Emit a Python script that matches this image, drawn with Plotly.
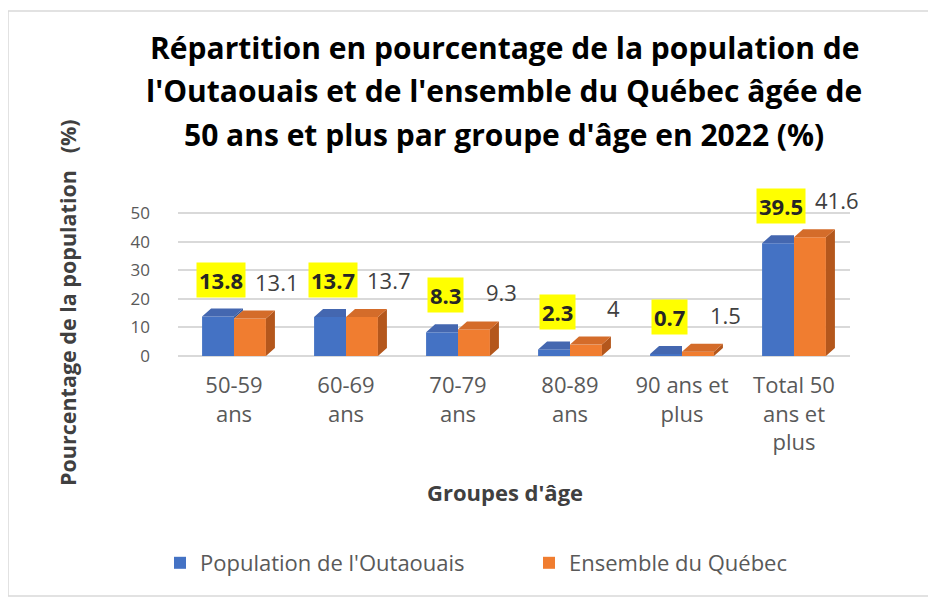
import plotly.graph_objects as go

categories = ["50-59<br>ans", "60-69<br>ans", "70-79<br>ans", "80-89<br>ans",
              "90 ans et<br>plus", "Total 50<br>ans et<br>plus"]
outaouais = [13.8, 13.7, 8.3, 2.3, 0.7, 39.5]
quebec = [13.1, 13.7, 9.3, 4, 1.5, 41.6]
y_ticks = [0, 10, 20, 30, 40, 50]
title_lines = ["Répartition en pourcentage de la population de",
               "l'Outaouais et de l'ensemble du Québec âgée de",
               "50 ans et plus par groupe d'âge en 2022 (%)"]
series_names = ["Population de l'Outaouais", "Ensemble du Québec"]

# page body has an 8px margin; positions below are in window pixels
OFF = 8
W, H = 936 - OFF, 597 - OFF
PL, PR, PT, PB = 178, 850, 199, 356      # plot area in window pixels
L, R, T, B = PL - OFF, 936 - PR, PT - OFF, 597 - PB
PW, PH = PR - PL, PB - PT
YMAX = 55
NC = len(categories)

def px(x):
    return (x - PL) / PW

def py(y):
    return (PB - y) / PH

FONT = "Open Sans"
GRAY = "#595959"

idx = list(range(NC))
BW = 0.285                       # bar width in category units
DX = 9 / (PW / NC)               # 3D depth, 9 px sideways
DY = 8 / (PH / YMAX)             # 3D depth, 8 px upward

# faces of the blue (front-left) bars, hidden where the orange bar stands in front
b_top_x, b_top_y, b_side_x, b_side_y = [], [], [], []
for i, vb, vo in zip(idx, outaouais, quebec):
    a, b = i - BW, i
    if vo >= vb:
        b_top_x += [a, b, b, a + DX, a, None]
        b_top_y += [vb, vb, vb + DY, vb + DY, vb, None]
    else:
        b_top_x += [a, b, b + DX, a + DX, a, None]
        b_top_y += [vb, vb, vb + DY, vb + DY, vb, None]
        b_side_x += [b, b, b + DX, b + DX, b, None]
        b_side_y += [vo, vb, vb + DY, vo + DY, vo, None]

# faces of the orange bars
o_top_x, o_top_y, o_side_x, o_side_y = [], [], [], []
for i, vo in zip(idx, quebec):
    a, b = i, i + BW
    o_top_x += [a, b, b + DX, a + DX, a, None]
    o_top_y += [vo, vo, vo + DY, vo + DY, vo, None]
    o_side_x += [b, b + DX, b + DX, b, b, None]
    o_side_y += [0, DY, vo + DY, vo, 0, None]

def face(xs, ys, color):
    return go.Scatter(x=xs, y=ys, fill="toself", fillcolor=color, mode="lines",
                      line=dict(width=0, color=color), hoverinfo="skip",
                      showlegend=False)

fig = go.Figure()
fig.add_trace(go.Bar(x=idx, y=outaouais, name=series_names[0], width=BW, offset=-BW,
                     marker=dict(color="#4472C4", line=dict(width=0))))
fig.add_trace(go.Bar(x=idx, y=quebec, name=series_names[1], width=BW, offset=0,
                     marker=dict(color="#F07D30", line=dict(width=0))))
if b_side_x:
    fig.add_trace(face(b_side_x, b_side_y, "#2F5597"))
fig.add_trace(face(b_top_x, b_top_y, "#4467B0"))
fig.add_trace(face(o_side_x, o_side_y, "#B4571C"))
fig.add_trace(face(o_top_x, o_top_y, "#D46C2A"))

annotations = []
for i, v in zip(idx, outaouais):
    annotations.append(dict(x=i, y=v, xref="x", yref="y", text="<b>%g</b>" % v,
                            showarrow=False, xshift=-13, yshift=19, yanchor="bottom",
                            bgcolor="#FFFF00", borderpad=2,
                            font=dict(family=FONT, size=22, color="#262626")))
for i, v in zip(idx, quebec):
    annotations.append(dict(x=i, y=v, xref="x", yref="y", text="%g" % v,
                            showarrow=False, xshift=43, yshift=19, yanchor="bottom",
                            borderpad=2,
                            font=dict(family=FONT, size=22, color="#404040")))
for line, yy in zip(title_lines, [47, 91, 134]):
    annotations.append(dict(x=px(504), y=py(yy), xref="paper", yref="paper",
                            text="<b>%s</b>" % line, showarrow=False,
                            xanchor="center", yanchor="middle",
                            font=dict(family=FONT, size=30, color="#000000")))
annotations.append(dict(x=px(67), y=py(303), xref="paper", yref="paper",
                        text="<b>Pourcentage de la population\u00a0\u00a0\u00a0(%)</b>",
                        textangle=-90, showarrow=False, xanchor="center", yanchor="middle",
                        font=dict(family=FONT, size=21.5, color="#404040")))
annotations.append(dict(x=px(505), y=py(492), xref="paper", yref="paper",
                        text="<b>Groupes d'âge</b>", showarrow=False,
                        xanchor="center", yanchor="middle",
                        font=dict(family=FONT, size=22, color="#404040")))

fig.update_layout(
    width=W, height=H,
    margin=dict(l=L, r=R, t=T, b=B),
    paper_bgcolor="white", plot_bgcolor="white",
    barmode="overlay",
    annotations=annotations,
    showlegend=True,
    legend=dict(orientation="h", x=px(160), y=py(563), xanchor="left", yanchor="middle",
                font=dict(family=FONT, size=22, color=GRAY),
                entrywidth=324, entrywidthmode="pixels"),
    shapes=[dict(type="rect", xref="paper", yref="paper",
                 x0=px(8), x1=px(932), y0=py(596), y1=py(11),
                 line=dict(color="#D9D9D9", width=1.5), layer="below")],
    xaxis=dict(range=[-0.5, NC - 0.5], tickvals=idx, ticktext=categories,
               showgrid=False, showline=False, zeroline=False, ticks="",
               ticklabelstandoff=14,
               tickfont=dict(family=FONT, size=22, color=GRAY)),
    yaxis=dict(range=[0, YMAX], tickvals=y_ticks, showgrid=True, gridcolor="#D9D9D9",
               gridwidth=2, zeroline=True, zerolinecolor="#D9D9D9", zerolinewidth=2,
               ticks="", ticklabelstandoff=27,
               tickfont=dict(family=FONT, size=17, color=GRAY)),
)

fig.write_html("out.html")
